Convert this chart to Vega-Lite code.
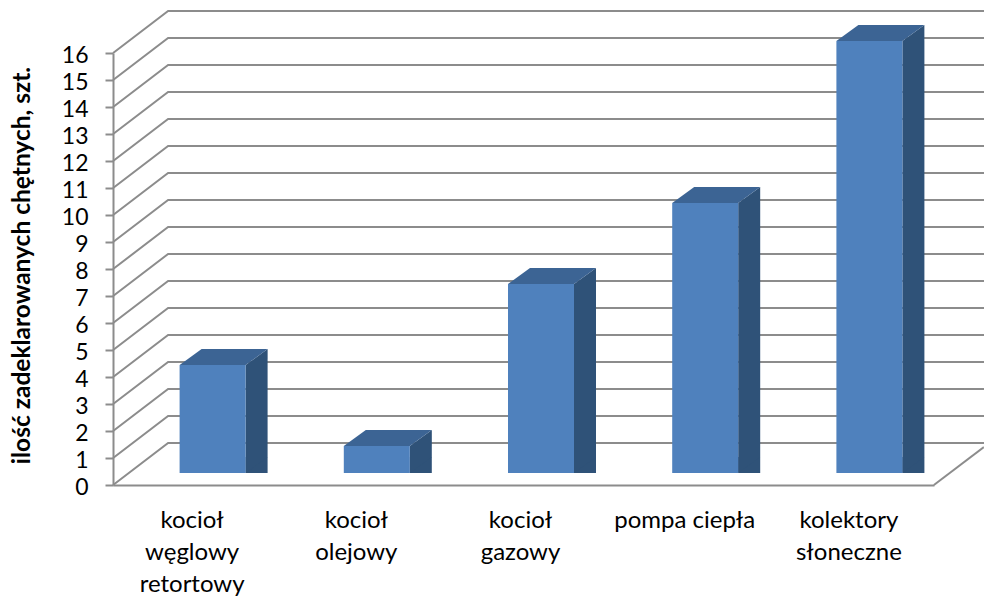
{
  "$schema": "https://vega.github.io/schema/vega-lite/v6.json",
  "width": 821,
  "height": 432,
  "autosize": {"type": "none"},
  "padding": {"left": 113, "top": 53, "right": 50, "bottom": 113},
  "background": "white",
  "config": {
    "view": {"stroke": null},
    "font": "Lato",
    "axisY": {
      "tickCount": 17,
      "labelOverlap": false,
      "labelBound": false,
      "labelFont": "Lato",
      "labelFontSize": 23,
      "labelColor": "#000000",
      "labelPadding": 17,
      "labelOffset": 2,
      "tickColor": "#8c8c8c",
      "tickSize": 8,
      "tickWidth": 2,
      "domainColor": "#8c8c8c",
      "domainWidth": 2,
      "grid": false
    }
  },
  "datasets": {
    "bars": [
      {"category": "kocioł węglowy retortowy", "value": 4},
      {"category": "kocioł olejowy", "value": 1},
      {"category": "kocioł gazowy", "value": 7},
      {"category": "pompa ciepła", "value": 10},
      {"category": "kolektory słoneczne", "value": 16}
    ],
    "grid": [
      {"level": 0}, {"level": 1}, {"level": 2}, {"level": 3}, {"level": 4}, {"level": 5},
      {"level": 6}, {"level": 7}, {"level": 8}, {"level": 9}, {"level": 10}, {"level": 11},
      {"level": 12}, {"level": 13}, {"level": 14}, {"level": 15}, {"level": 16}
    ]
  },
  "encoding": {
    "x": {
      "field": "category",
      "type": "nominal",
      "sort": null,
      "scale": {
        "domain": ["kocioł węglowy retortowy", "kocioł olejowy", "kocioł gazowy", "pompa ciepła", "kolektory słoneczne"],
        "paddingInner": 0,
        "paddingOuter": 0
      },
      "axis": {
        "title": null,
        "labelAngle": 0,
        "labelColor": "#000000",
        "labelFont": "Lato",
        "labelFontSize": 24,
        "labelLineHeight": 32,
        "labelPadding": 23,
        "labelOffset": -3,
        "labelOverlap": false,
        "labelExpr": "datum.label == 'pompa ciepła' ? datum.label : split(datum.label, ' ')",
        "ticks": false,
        "domainColor": "#8c8c8c",
        "domainWidth": 2,
        "grid": false,
        "zindex": 0
      }
    }
  },
  "layer": [
    {
      "data": {"name": "grid"},
      "mark": {
        "type": "point",
        "shape": "M-82,0L-27,-42L789,-42",
        "size": 4,
        "filled": false,
        "opacity": 1,
        "stroke": "#8c8c8c",
        "strokeWidth": 2
      },
      "encoding": {
        "x": {"datum": "kocioł węglowy retortowy"},
        "y": {
          "field": "level",
          "type": "quantitative",
          "scale": {"domain": [0, 16], "nice": false, "zero": true},
          "axis": {
            "title": "ilość zadeklarowanych chętnych, szt.",
            "titleFont": "Lato",
            "titleFontSize": 24.5,
            "titleFontWeight": "bold",
            "titleColor": "#000000",
            "titlePadding": 27,
            "titleY": 212
          }
        }
      }
    },
    {
      "data": {"values": [{"level": 0}]},
      "mark": {
        "type": "point",
        "shape": "M82,0L132,-38",
        "size": 4,
        "filled": false,
        "opacity": 1,
        "stroke": "#8c8c8c",
        "strokeWidth": 2
      },
      "encoding": {
        "x": {"datum": "kolektory słoneczne"},
        "y": {"field": "level", "type": "quantitative"}
      }
    },
    {
      "data": {"name": "bars"},
      "mark": {"type": "bar", "size": 22, "color": "#2f5278", "xOffset": 61.5, "yOffset": -12, "y2Offset": -28},
      "encoding": {"y": {"field": "value", "type": "quantitative"}}
    },
    {
      "data": {"name": "bars"},
      "mark": {"type": "point", "shape": "M50.5,-12L50.5,-28L72.5,-28Z", "size": 4, "filled": true, "opacity": 1, "color": "#2f5278", "strokeWidth": 0},
      "encoding": {"y": {"datum": 0, "type": "quantitative"}}
    },
    {
      "data": {"name": "bars"},
      "mark": {"type": "point", "shape": "M50.5,-12L72.5,-12L72.5,-28Z", "size": 4, "filled": true, "opacity": 1, "color": "#2f5278", "strokeWidth": 0},
      "encoding": {"y": {"field": "value", "type": "quantitative"}}
    },
    {
      "data": {"name": "bars"},
      "mark": {"type": "point", "shape": "M-15.5,-12L50.5,-12L72.5,-28L6.5,-28Z", "size": 4, "filled": true, "opacity": 1, "color": "#3c6494", "strokeWidth": 0},
      "encoding": {"y": {"field": "value", "type": "quantitative"}}
    },
    {
      "data": {"name": "bars"},
      "mark": {"type": "bar", "size": 66, "color": "#4f81bd", "xOffset": 17.5, "yOffset": -12, "y2Offset": -12},
      "encoding": {"y": {"field": "value", "type": "quantitative"}}
    }
  ]
}
